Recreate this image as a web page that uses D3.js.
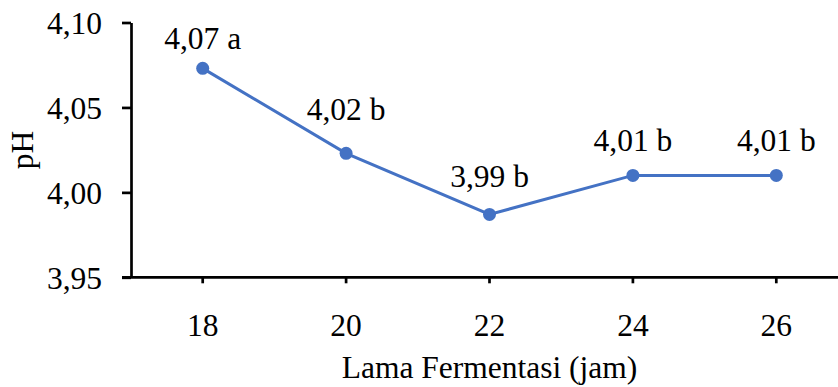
<!DOCTYPE html>
<html><head><meta charset="utf-8">
<script src="https://cdn.jsdelivr.net/npm/d3@7"></script>
<style>body{margin:0;background:#fff}svg{display:block}text{font-family:"Liberation Serif","Times New Roman",serif;fill:#000}</style>
</head><body>
<svg id="c" width="838" height="387"></svg>
<script>
const categories = ["18","20","22","24","26"];
const phValues = [4.073, 4.023, 3.987, 4.010, 4.010];
const pointLabels = ["4,07 a","4,02 b","3,99 b","4,01 b","4,01 b"];
const yTicks = [3.95, 4.00, 4.05, 4.10];
const yTickLabels = ["3,95","4,00","4,05","4,10"];
const xTitle = "Lama Fermentasi (jam)";
const yTitle = "pH";

// layout (not data)
const labelDy = [-19, -33, -27, -24, -24];
const svg = d3.select("#c");
const mLeft = 131, mRight = 848, mTop = 22.5, mBottom = 277.3;
const x = d3.scaleBand().domain(categories).range([mLeft, mRight]);
const y = d3.scaleLinear().domain([3.95, 4.10]).range([mBottom, mTop]);
const fs = 31.5;

// y axis
const yAxis = svg.append("g").attr("transform", `translate(${mLeft},0)`)
  .call(d3.axisLeft(y).tickValues(yTicks).tickFormat((d,i)=>yTickLabels[i]).tickSize(9).tickSizeOuter(0).tickPadding(20));
yAxis.attr("font-family", null).attr("font-size", null);
yAxis.select(".domain").attr("stroke","#000").attr("stroke-width",2.7);
yAxis.selectAll(".tick line").attr("stroke","#000").attr("stroke-width",2.7);
yAxis.selectAll(".tick text").attr("font-size",fs).attr("fill","#000").attr("dy","0.34em");

// x axis
const xAxis = svg.append("g").attr("transform", `translate(0,${mBottom})`)
  .call(d3.axisBottom(x).tickSize(6).tickSizeOuter(0).tickPadding(30));
xAxis.attr("font-family", null).attr("font-size", null);
xAxis.select(".domain").attr("stroke","#000").attr("stroke-width",2.7).attr("d", `M${mLeft-9},0H${mRight}`);
xAxis.selectAll(".tick line").attr("stroke","#000").attr("stroke-width",2.7);
xAxis.selectAll(".tick text").attr("font-size",fs).attr("fill","#000").attr("dy","0.71em");

const cx = d => x(d) + x.bandwidth()/2;
const pts = categories.map((c,i)=>({c, v: phValues[i], l: pointLabels[i], dy: labelDy[i]}));

svg.append("path").datum(pts)
  .attr("fill","none").attr("stroke","#4472C4").attr("stroke-width",3)
  .attr("d", d3.line().x(d=>cx(d.c)).y(d=>y(d.v)));

svg.selectAll("circle.m").data(pts).join("circle").attr("class","m")
  .attr("cx", d=>cx(d.c)).attr("cy", d=>y(d.v)).attr("r",6.5).attr("fill","#4472C4");

svg.selectAll("text.lbl").data(pts).join("text").attr("class","lbl")
  .attr("x", d=>cx(d.c)).attr("y", d=>y(d.v)+d.dy)
  .attr("text-anchor","middle").attr("font-size",fs).text(d=>d.l);

svg.append("text").attr("x",(mLeft+mRight)/2).attr("y",378).attr("text-anchor","middle")
  .attr("font-size",fs).text(xTitle);

svg.append("text").attr("transform",`translate(33,${(mTop+mBottom)/2}) rotate(-90)`)
  .attr("text-anchor","middle").attr("font-size",fs).text(yTitle);
</script>
</body></html>
